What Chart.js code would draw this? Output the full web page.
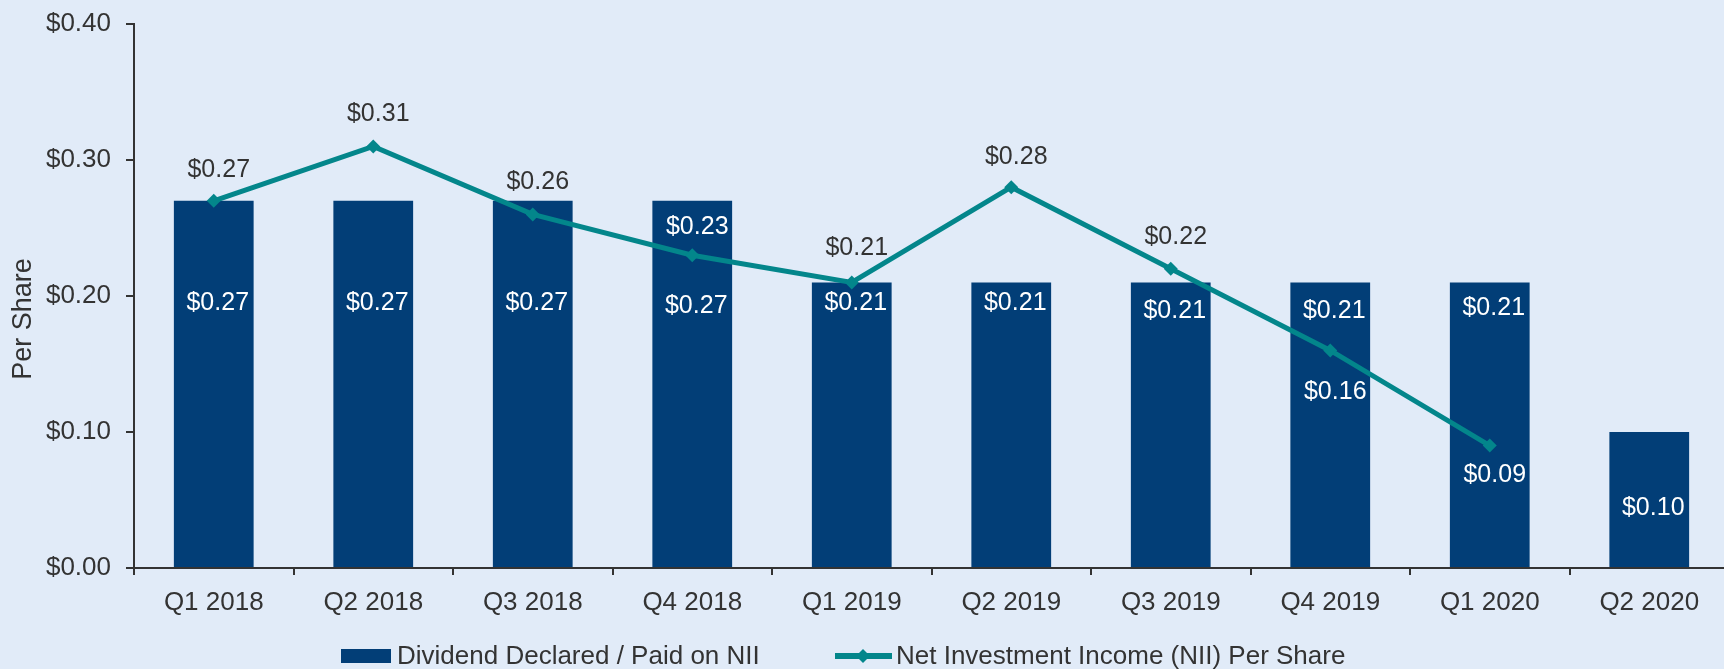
<!DOCTYPE html>
<html>
<head>
<meta charset="utf-8">
<script src="https://cdn.jsdelivr.net/npm/chart.js@4"></script>
<style>
  html, body { margin: 0; padding: 0; background: #e1ebf8; overflow: hidden; }
  #wrap { width: 1724px; height: 669px; overflow: hidden; }
</style>
</head>
<body>
<div id="wrap"><canvas id="chart" width="1736" height="669"></canvas></div>
<script>
const quarters = ['Q1 2018', 'Q2 2018', 'Q3 2018', 'Q4 2018', 'Q1 2019', 'Q2 2019', 'Q3 2019', 'Q4 2019', 'Q1 2020', 'Q2 2020'];
const dividend = [0.27, 0.27, 0.27, 0.27, 0.21, 0.21, 0.21, 0.21, 0.21, 0.10];
const nii = [0.27, 0.31, 0.26, 0.23, 0.21, 0.28, 0.22, 0.16, 0.09, null];

const NAVY = '#023e77';
const TEAL = '#03868b';
const INK = '#333333';
const FONT = "'Liberation Sans', Arial, sans-serif";

Chart.defaults.font.family = FONT;
Chart.defaults.font.size = 26;
Chart.defaults.color = INK;

const money = v => '$' + v.toFixed(2);

// label placement (pixels from the element)
const barLabelOffset = [102, 102, 102, 105, 21, 21, 29, 29, 26, 76];
const lineLabelOffset = [-31, -32, -32, -28, -34, -30, -32, 42, 30];
const lineLabelWhite = [false, false, false, true, false, false, false, true, true];

function diamond(ctx, x, y, r) {
  ctx.beginPath();
  ctx.moveTo(x, y - r);
  ctx.lineTo(x + r, y);
  ctx.lineTo(x, y + r);
  ctx.lineTo(x - r, y);
  ctx.closePath();
  ctx.fill();
}

const extras = {
  id: 'extras',
  afterDatasetsDraw(chart) {
    const ctx = chart.ctx;
    ctx.save();
    ctx.font = '25px ' + FONT;
    ctx.textAlign = 'center';
    ctx.textBaseline = 'middle';

    chart.getDatasetMeta(1).data.forEach((el, i) => {
      ctx.fillStyle = '#ffffff';
      ctx.fillText(money(dividend[i]), el.x + 4, el.y + barLabelOffset[i]);
    });
    chart.getDatasetMeta(0).data.forEach((el, i) => {
      if (nii[i] == null) return;
      ctx.fillStyle = lineLabelWhite[i] ? '#ffffff' : INK;
      ctx.fillText(money(nii[i]), el.x + 5, el.y + lineLabelOffset[i]);
    });

    // y axis title
    ctx.save();
    ctx.font = '27px ' + FONT;
    ctx.translate(24, 319);
    ctx.rotate(-Math.PI / 2);
    ctx.fillStyle = INK;
    ctx.fillText('Per Share', 0, 0);
    ctx.restore();

    // legend
    const ly = 656;
    ctx.font = '26px ' + FONT;
    ctx.fillStyle = NAVY;
    ctx.fillRect(341, ly - 7, 50, 14);
    ctx.fillStyle = INK;
    ctx.textAlign = 'left';
    ctx.fillText('Dividend Declared / Paid on NII', 397, ly + 1);
    ctx.strokeStyle = TEAL;
    ctx.lineWidth = 6;
    ctx.beginPath();
    ctx.moveTo(835, ly);
    ctx.lineTo(892, ly);
    ctx.stroke();
    ctx.fillStyle = TEAL;
    diamond(ctx, 863, ly, 7);
    ctx.fillStyle = INK;
    ctx.fillText('Net Investment Income (NII) Per Share', 896, ly + 1);
    ctx.restore();
  }
};

new Chart(document.getElementById('chart'), {
  type: 'bar',
  data: {
    labels: quarters,
    datasets: [
      {
        type: 'line',
        label: 'Net Investment Income (NII) Per Share',
        data: nii,
        borderColor: TEAL,
        backgroundColor: TEAL,
        borderWidth: 5,
        pointStyle: 'rectRot',
        pointRadius: 7,
        pointBackgroundColor: TEAL,
        pointBorderWidth: 0,
        tension: 0,
        order: 0
      },
      {
        type: 'bar',
        label: 'Dividend Declared / Paid on NII',
        data: dividend,
        backgroundColor: NAVY,
        barPercentage: 0.5,
        categoryPercentage: 1,
        order: 1
      }
    ]
  },
  options: {
    responsive: false,
    animation: false,
    layout: { padding: { top: 24, right: 2, bottom: 0, left: 0 } },
    plugins: { legend: { display: false }, tooltip: { enabled: false } },
    scales: {
      x: {
        grid: { drawOnChartArea: false, drawTicks: true, tickLength: 7, color: INK, lineWidth: 2, offset: true },
        border: { color: INK, width: 2 },
        ticks: { padding: 12, color: INK, font: { size: 26 } },
        afterFit: s => { s.height = 101; }
      },
      y: {
        min: 0,
        max: 0.4,
        grid: { drawOnChartArea: false, drawTicks: true, tickLength: 8, color: INK, lineWidth: 2 },
        border: { color: INK, width: 2 },
        ticks: { stepSize: 0.1, padding: 15, color: INK, font: { size: 26 }, callback: v => money(v) },
        afterFit: s => { s.width = 134; s.paddingTop = 0; s.paddingBottom = 0; }
      }
    }
  },
  plugins: [extras]
});
</script>
</body>
</html>
